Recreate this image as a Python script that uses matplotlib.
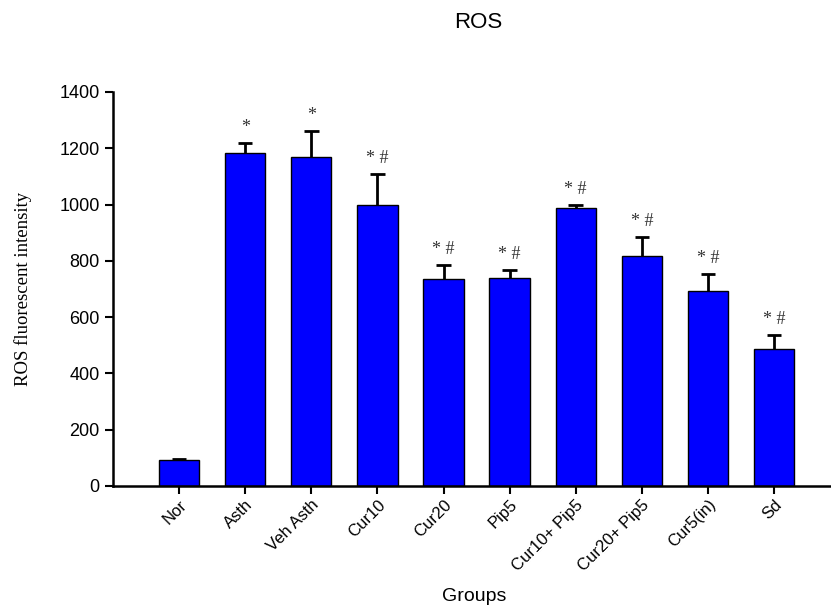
import matplotlib

matplotlib.use("Agg")
import matplotlib.pyplot as plt
import numpy as np

groups = ["Nor", "Asth", "Veh Asth", "Cur10", "Cur20", "Pip5",
          "Cur10+ Pip5", "Cur20+ Pip5", "Cur5(in)", "Sd"]
ros_mean = [92, 1182, 1170, 999, 736, 740, 989, 816, 692, 486]
ros_err = [5, 38, 92, 111, 49, 26, 11, 70, 62, 52]
marks = ["", "*", "*", "* #", "* #", "* #", "* #", "* #", "* #", "* #"]

plt.rcParams["font.family"] = ["Liberation Sans", "DejaVu Sans"]

fig = plt.figure(figsize=(8.31, 6.09), dpi=100)
ax = fig.add_axes([0.136, 0.202, 0.863, 0.647])

x = np.arange(len(groups))
bw = 0.61
ax.bar(x, ros_mean, width=bw, color="#0000ff", edgecolor="black", linewidth=1.0, zorder=2)
tops = np.array(ros_mean) + np.array(ros_err)
# upper-only error bars (GraphPad style)
ax.vlines(x, ros_mean, tops, color="black", linewidth=2, zorder=3)
ax.hlines(tops, x - 0.11, x + 0.11, color="black", linewidth=2, zorder=3)

for xi, t, lbl in zip(x, tops, marks):
    if lbl:
        ax.annotate(lbl, (xi, t), xytext=(0, 5), textcoords="offset points",
                    ha="center", va="bottom", fontsize=13, color="#333333",
                    family="Liberation Serif")

ax.set_xlim(-1.0, 9.85)
ax.set_ylim(0, 1400)
ax.set_yticks(range(0, 1401, 200))
ax.set_xticks(x)
ax.set_xticklabels(groups, rotation=45, ha="right", rotation_mode="anchor", fontsize=12)
ax.tick_params(axis="y", labelsize=13, width=1.5, length=6, direction="out")
ax.tick_params(axis="x", width=1.5, length=6, direction="out", pad=2)
for s in ("top", "right"):
    ax.spines[s].set_visible(False)
for s in ("left", "bottom"):
    ax.spines[s].set_linewidth(1.8)

ax.set_ylabel("ROS fluorescent intensity", family="Liberation Serif", fontsize=13.5, labelpad=20)
fig.text(0.571, 0.02, "Groups", ha="center", va="center", fontsize=14)
fig.text(0.575, 0.963, "ROS", ha="center", va="center", fontsize=16)

fig.savefig("out.png", dpi=100)
